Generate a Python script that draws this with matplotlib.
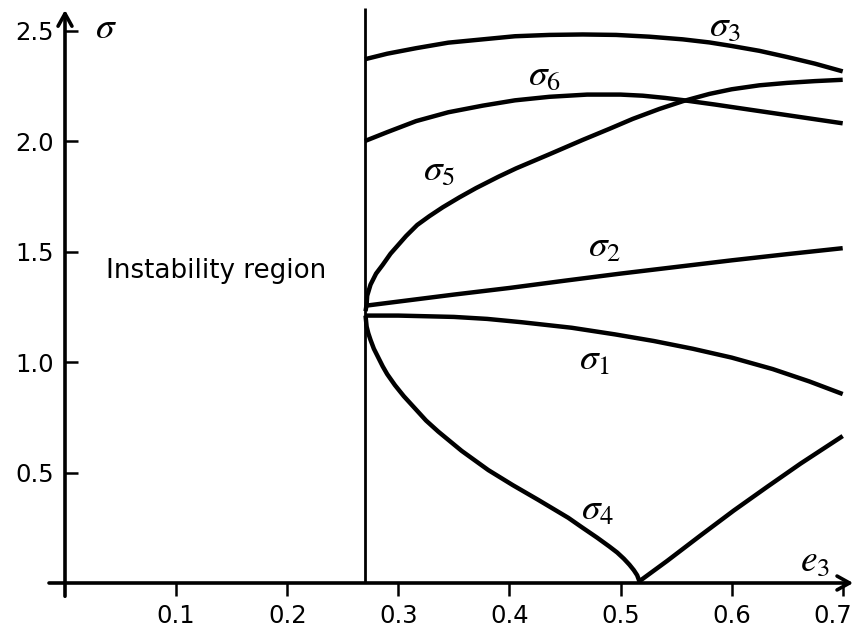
import matplotlib
matplotlib.use("Agg")
import matplotlib.pyplot as plt
from matplotlib.transforms import ScaledTranslation

plt.rcParams['mathtext.fontset'] = 'stix'
plt.rcParams['font.family'] = ['DejaVu Sans']

# ---- data ----
e_crit = 0.27

s3_x = [0.270, 0.290, 0.316, 0.345, 0.376, 0.405, 0.436, 0.466, 0.496, 0.526, 0.556, 0.580, 0.600, 0.625, 0.650, 0.675, 0.700]
s3_y = [2.37, 2.395, 2.42, 2.445, 2.46, 2.474, 2.48, 2.482, 2.48, 2.472, 2.46, 2.446, 2.43, 2.408, 2.38, 2.35, 2.315]

s6_x = [0.270, 0.290, 0.316, 0.345, 0.376, 0.405, 0.436, 0.470, 0.500, 0.520, 0.540, 0.556, 0.585, 0.616, 0.650, 0.700]
s6_y = [2.00, 2.04, 2.09, 2.13, 2.16, 2.184, 2.20, 2.21, 2.21, 2.205, 2.195, 2.185, 2.165, 2.142, 2.117, 2.08]

s5_x = [0.2705, 0.2715, 0.272, 0.275, 0.280, 0.286, 0.293, 0.300, 0.307, 0.317, 0.328, 0.340, 0.355, 0.370, 0.390, 0.406,
        0.436, 0.466, 0.490, 0.511, 0.535, 0.556, 0.580, 0.600, 0.625, 0.650, 0.675, 0.700]
s5_y = [1.23, 1.26, 1.30, 1.35, 1.40, 1.44, 1.49, 1.53, 1.57, 1.62, 1.66, 1.70, 1.745, 1.787, 1.838, 1.876,
        1.94, 2.005, 2.055, 2.10, 2.145, 2.18, 2.213, 2.234, 2.252, 2.263, 2.271, 2.277]

s2_x = [0.271, 0.350, 0.400, 0.450, 0.500, 0.550, 0.600, 0.650, 0.700]
s2_y = [1.255, 1.305, 1.335, 1.368, 1.40, 1.43, 1.46, 1.488, 1.515]

s1_x = [0.271, 0.300, 0.350, 0.380, 0.411, 0.456, 0.495, 0.530, 0.565, 0.600, 0.637, 0.670, 0.700]
s1_y = [1.21, 1.21, 1.204, 1.195, 1.18, 1.155, 1.125, 1.095, 1.06, 1.02, 0.968, 0.912, 0.855]

s4_x = [0.2705, 0.2715, 0.273, 0.275, 0.278, 0.282, 0.286, 0.290, 0.297, 0.305, 0.315, 0.325, 0.336, 0.357, 0.381, 0.403,
        0.426, 0.443, 0.453, 0.465, 0.479, 0.490, 0.497, 0.503, 0.508, 0.512, 0.515, 0.517,
        0.542, 0.572, 0.602, 0.632, 0.662, 0.700]
s4_y = [1.21, 1.16, 1.13, 1.10, 1.06, 1.02, 0.98, 0.945, 0.895, 0.845, 0.79, 0.735, 0.685, 0.598, 0.511, 0.443,
        0.376, 0.325, 0.295, 0.253, 0.205, 0.165, 0.138, 0.11, 0.083, 0.058, 0.035, 0.008,
        0.10, 0.215, 0.328, 0.435, 0.54, 0.665]

x_ticks = [0.1, 0.2, 0.3, 0.4, 0.5, 0.6, 0.7]
x_tick_labels = ['0.1', '0.2', '0.3', '0.4', '0.5', '0.6', '0.7']
y_ticks = [0.5, 1.0, 1.5, 2.0, 2.5]
y_tick_labels = ['0.5', '1.0', '1.5', '2.0', '2.5']

curve_labels = [(r'$\sigma_3$', 0.594, 2.52), (r'$\sigma_6$', 0.432, 2.30), (r'$\sigma_5$', 0.337, 1.87),
                (r'$\sigma_2$', 0.486, 1.52), (r'$\sigma_1$', 0.477, 1.01), (r'$\sigma_4$', 0.479, 0.33)]

# ---- figure ----
fig = plt.figure(figsize=(8.55, 6.29), dpi=100)
ax = fig.add_axes([0, 0, 1, 1])
xmin = -65 / 1111
ax.set_xlim(xmin, xmin + 855 / 1111)
ymin = -46 / 221
ax.set_ylim(ymin, ymin + 629 / 221)

for s in ['top', 'right']:
    ax.spines[s].set_visible(False)
ax.spines['left'].set_position(('data', 0))
ax.spines['bottom'].set_position(('data', 0))
ax.spines['left'].set_visible(False)
ax.spines['bottom'].set_visible(False)

# axes lines with arrows
arrow = dict(arrowstyle='->, head_length=0.45, head_width=0.25', lw=2.6, color='black',
             shrinkA=0, shrinkB=0, mutation_scale=20)
ax.annotate('', xy=(0.7095, 0), xytext=(-0.0144, 0), arrowprops=arrow)
ax.annotate('', xy=(0, 2.593), xytext=(0, -0.06), arrowprops=arrow)

ax.set_xticks(x_ticks)
ax.set_xticklabels(x_tick_labels)
ax.set_yticks(y_ticks)
ax.set_yticklabels(y_tick_labels)
ax.tick_params(axis='x', direction='out', length=9, width=1.8, pad=6, labelsize=17.5)
ax.tick_params(axis='y', direction='in', length=9, width=1.8, pad=8, labelsize=17.5)

# keep the last x tick label inside the picture
last = ax.get_xticklabels()[-1]
last.set_transform(last.get_transform() + ScaledTranslation(-10 / 100, 0, fig.dpi_scale_trans))

# critical line
ax.plot([e_crit, e_crit], [0, 2.60], color='black', lw=2.0, solid_capstyle='butt')

for xs, ys in [(s3_x, s3_y), (s6_x, s6_y), (s5_x, s5_y), (s2_x, s2_y), (s1_x, s1_y), (s4_x, s4_y)]:
    ax.plot(xs, ys, color='black', lw=3.2, solid_joinstyle='round', solid_capstyle='butt')

for txt, x, y in curve_labels:
    ax.text(x, y, txt, fontsize=27, ha='center', va='center')

ax.text(0.037, 2.51, r'$\sigma$', fontsize=27, ha='center', va='center')
ax.text(0.675, 0.10, r'$e_3$', fontsize=27, ha='center', va='center')
ax.text(0.037, 1.41, 'Instability region', fontsize=18.8, ha='left', va='center')

fig.savefig('out.png', dpi=100)
